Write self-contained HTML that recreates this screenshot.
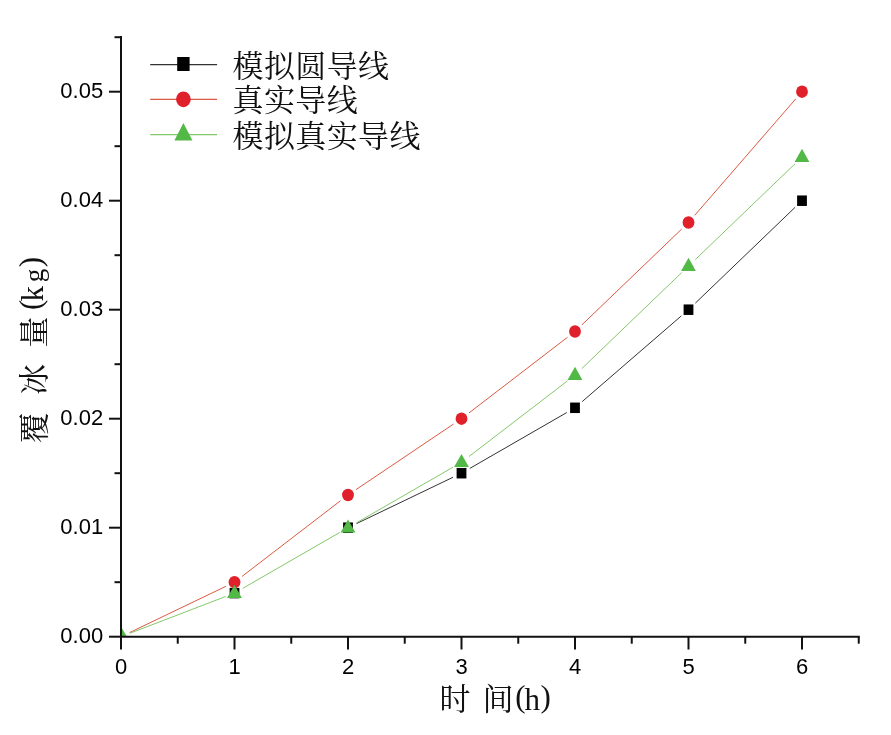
<!DOCTYPE html>
<html lang="zh"><head><meta charset="utf-8"><title>覆冰量</title>
<style>html,body{margin:0;padding:0;background:#fff}svg{display:block}.n{font-family:"Liberation Sans",sans-serif;font-size:22.0px;fill:#000}.c{font-family:"Liberation Serif","Noto Serif CJK SC",serif;fill:#111}</style></head><body>
<svg width="891" height="735" viewBox="0 0 891 735">
<rect width="891" height="735" fill="#fff"/>
<defs><clipPath id="cp"><rect x="121.0" y="30" width="760" height="606.7"/></clipPath></defs>
<g clip-path="url(#cp)">
<line x1="356.56" y1="523.59" x2="452.94" y2="477.31" stroke="#333333" stroke-width="1"/>
<line x1="469.73" y1="468.46" x2="566.77" y2="412.54" stroke="#333333" stroke-width="1"/>
<line x1="582.19" y1="401.59" x2="681.31" y2="315.91" stroke="#333333" stroke-width="1"/>
<line x1="695.35" y1="303.12" x2="795.15" y2="207.28" stroke="#333333" stroke-width="1"/>
<line x1="129.56" y1="632.59" x2="225.94" y2="586.31" stroke="#dc5a42" stroke-width="1"/>
<line x1="242.03" y1="576.41" x2="340.47" y2="500.79" stroke="#dc5a42" stroke-width="1"/>
<line x1="355.88" y1="489.70" x2="453.62" y2="424.00" stroke="#dc5a42" stroke-width="1"/>
<line x1="469.03" y1="412.91" x2="567.47" y2="337.29" stroke="#dc5a42" stroke-width="1"/>
<line x1="581.85" y1="324.92" x2="681.65" y2="229.08" stroke="#dc5a42" stroke-width="1"/>
<line x1="694.73" y1="215.32" x2="795.77" y2="98.88" stroke="#dc5a42" stroke-width="1"/>
<line x1="129.87" y1="633.29" x2="225.63" y2="596.51" stroke="#84c86a" stroke-width="1"/>
<line x1="242.73" y1="588.36" x2="339.77" y2="532.44" stroke="#84c86a" stroke-width="1"/>
<line x1="356.23" y1="522.96" x2="453.27" y2="467.04" stroke="#84c86a" stroke-width="1"/>
<line x1="469.03" y1="456.51" x2="567.47" y2="380.89" stroke="#84c86a" stroke-width="1"/>
<line x1="581.85" y1="368.52" x2="681.65" y2="272.68" stroke="#84c86a" stroke-width="1"/>
<line x1="695.35" y1="259.52" x2="795.15" y2="163.68" stroke="#84c86a" stroke-width="1"/>
<rect x="229.60" y="587.85" width="9.80" height="10.50" fill="#000000"/>
<rect x="343.10" y="522.45" width="9.80" height="10.50" fill="#000000"/>
<rect x="456.60" y="467.95" width="9.80" height="10.50" fill="#000000"/>
<rect x="570.10" y="402.55" width="9.80" height="10.50" fill="#000000"/>
<rect x="683.60" y="304.45" width="9.80" height="10.50" fill="#000000"/>
<rect x="797.10" y="195.45" width="9.80" height="10.50" fill="#000000"/>
<ellipse cx="234.50" cy="582.20" rx="5.90" ry="6.20" fill="#e0202a"/>
<ellipse cx="348.00" cy="495.00" rx="5.90" ry="6.20" fill="#e0202a"/>
<ellipse cx="461.50" cy="418.70" rx="5.90" ry="6.20" fill="#e0202a"/>
<ellipse cx="575.00" cy="331.50" rx="5.90" ry="6.20" fill="#e0202a"/>
<ellipse cx="688.50" cy="222.50" rx="5.90" ry="6.20" fill="#e0202a"/>
<ellipse cx="802.00" cy="91.70" rx="5.90" ry="6.20" fill="#e0202a"/>
<polygon points="114.20,640.50 129.00,640.50 121.60,627.40" fill="#52b947"/>
<polygon points="227.10,597.90 241.90,597.90 234.50,584.80" fill="#52b947"/>
<polygon points="340.60,532.50 355.40,532.50 348.00,519.40" fill="#52b947"/>
<polygon points="454.10,467.10 468.90,467.10 461.50,454.00" fill="#52b947"/>
<polygon points="567.60,379.90 582.40,379.90 575.00,366.80" fill="#52b947"/>
<polygon points="681.10,270.90 695.90,270.90 688.50,257.80" fill="#52b947"/>
<polygon points="794.60,161.90 809.40,161.90 802.00,148.80" fill="#52b947"/>
</g>
<line x1="121.0" y1="36" x2="121.0" y2="637.7" stroke="#111" stroke-width="2"/>
<line x1="120.0" y1="636.7" x2="859.75" y2="636.7" stroke="#111" stroke-width="2"/>
<line x1="121.00" y1="636.7" x2="121.00" y2="649.5" stroke="#111" stroke-width="2"/>
<text class="n" x="121.00" y="673.8" text-anchor="middle">0</text>
<line x1="177.75" y1="636.7" x2="177.75" y2="643.7" stroke="#111" stroke-width="2"/>
<line x1="234.50" y1="636.7" x2="234.50" y2="649.5" stroke="#111" stroke-width="2"/>
<text class="n" x="234.50" y="673.8" text-anchor="middle">1</text>
<line x1="291.25" y1="636.7" x2="291.25" y2="643.7" stroke="#111" stroke-width="2"/>
<line x1="348.00" y1="636.7" x2="348.00" y2="649.5" stroke="#111" stroke-width="2"/>
<text class="n" x="348.00" y="673.8" text-anchor="middle">2</text>
<line x1="404.75" y1="636.7" x2="404.75" y2="643.7" stroke="#111" stroke-width="2"/>
<line x1="461.50" y1="636.7" x2="461.50" y2="649.5" stroke="#111" stroke-width="2"/>
<text class="n" x="461.50" y="673.8" text-anchor="middle">3</text>
<line x1="518.25" y1="636.7" x2="518.25" y2="643.7" stroke="#111" stroke-width="2"/>
<line x1="575.00" y1="636.7" x2="575.00" y2="649.5" stroke="#111" stroke-width="2"/>
<text class="n" x="575.00" y="673.8" text-anchor="middle">4</text>
<line x1="631.75" y1="636.7" x2="631.75" y2="643.7" stroke="#111" stroke-width="2"/>
<line x1="688.50" y1="636.7" x2="688.50" y2="649.5" stroke="#111" stroke-width="2"/>
<text class="n" x="688.50" y="673.8" text-anchor="middle">5</text>
<line x1="745.25" y1="636.7" x2="745.25" y2="643.7" stroke="#111" stroke-width="2"/>
<line x1="802.00" y1="636.7" x2="802.00" y2="649.5" stroke="#111" stroke-width="2"/>
<text class="n" x="802.00" y="673.8" text-anchor="middle">6</text>
<line x1="858.75" y1="636.7" x2="858.75" y2="643.7" stroke="#111" stroke-width="2"/>
<line x1="109.0" y1="636.70" x2="121.0" y2="636.70" stroke="#111" stroke-width="2"/>
<text class="n" x="103.2" y="642.70" text-anchor="end">0.00</text>
<line x1="114.5" y1="582.20" x2="121.0" y2="582.20" stroke="#111" stroke-width="2"/>
<line x1="109.0" y1="527.70" x2="121.0" y2="527.70" stroke="#111" stroke-width="2"/>
<text class="n" x="103.2" y="533.70" text-anchor="end">0.01</text>
<line x1="114.5" y1="473.20" x2="121.0" y2="473.20" stroke="#111" stroke-width="2"/>
<line x1="109.0" y1="418.70" x2="121.0" y2="418.70" stroke="#111" stroke-width="2"/>
<text class="n" x="103.2" y="424.70" text-anchor="end">0.02</text>
<line x1="114.5" y1="364.20" x2="121.0" y2="364.20" stroke="#111" stroke-width="2"/>
<line x1="109.0" y1="309.70" x2="121.0" y2="309.70" stroke="#111" stroke-width="2"/>
<text class="n" x="103.2" y="315.70" text-anchor="end">0.03</text>
<line x1="114.5" y1="255.20" x2="121.0" y2="255.20" stroke="#111" stroke-width="2"/>
<line x1="109.0" y1="200.70" x2="121.0" y2="200.70" stroke="#111" stroke-width="2"/>
<text class="n" x="103.2" y="206.70" text-anchor="end">0.04</text>
<line x1="114.5" y1="146.20" x2="121.0" y2="146.20" stroke="#111" stroke-width="2"/>
<line x1="109.0" y1="91.70" x2="121.0" y2="91.70" stroke="#111" stroke-width="2"/>
<text class="n" x="103.2" y="97.70" text-anchor="end">0.05</text>
<line x1="114.5" y1="37.20" x2="121.0" y2="37.20" stroke="#111" stroke-width="2"/>
<line x1="150.2" y1="64.7" x2="217.1" y2="64.7" stroke="#333333" stroke-width="1.3"/>
<rect x="177.20" y="57.00" width="12.40" height="14.00" fill="#000000"/>
<text class="c" x="232.5" y="76.7" font-size="31" letter-spacing="0.4">模拟圆导线</text>
<line x1="150.2" y1="99.3" x2="217.1" y2="99.3" stroke="#dc5a42" stroke-width="1.3"/>
<ellipse cx="183.40" cy="99.30" rx="7.35" ry="7.85" fill="#e0202a"/>
<text class="c" x="232.5" y="111.3" font-size="31" letter-spacing="0.4">真实导线</text>
<line x1="150.2" y1="134.6" x2="217.1" y2="134.6" stroke="#84c86a" stroke-width="1.3"/>
<polygon points="174.40,140.60 192.40,140.60 183.40,123.10" fill="#52b947"/>
<text class="c" x="232.5" y="146.6" font-size="31" letter-spacing="0.4">模拟真实导线</text>
<text class="c" x="455.0" y="709.5" font-size="31" text-anchor="middle">时</text>
<text class="c" x="498.0" y="709.5" font-size="31" text-anchor="middle">间</text>
<text class="c" x="520.5" y="707.0" font-size="31" text-anchor="middle">(</text>
<text class="c" x="532.2" y="709.5" font-size="31" text-anchor="middle">h</text>
<text class="c" x="545.6" y="707.0" font-size="31" text-anchor="middle">)</text>
<text class="c" transform="translate(44.8,428.0) rotate(-90)" font-size="31" text-anchor="middle">覆</text>
<text class="c" transform="translate(44.8,379.5) rotate(-90)" font-size="31" text-anchor="middle">冰</text>
<text class="c" transform="translate(44.8,332.0) rotate(-90)" font-size="31" text-anchor="middle">量</text>
<text class="c" transform="translate(40.8,304.8) rotate(-90)" font-size="31" text-anchor="middle">(</text>
<text class="c" transform="translate(43.4,293.7) rotate(-90)" font-size="31" text-anchor="middle">k</text>
<text class="c" transform="translate(42.8,275.5) rotate(-90)" font-size="27" text-anchor="middle">g</text>
<text class="c" transform="translate(40.8,262.0) rotate(-90)" font-size="31" text-anchor="middle">)</text>
</svg></body></html>
